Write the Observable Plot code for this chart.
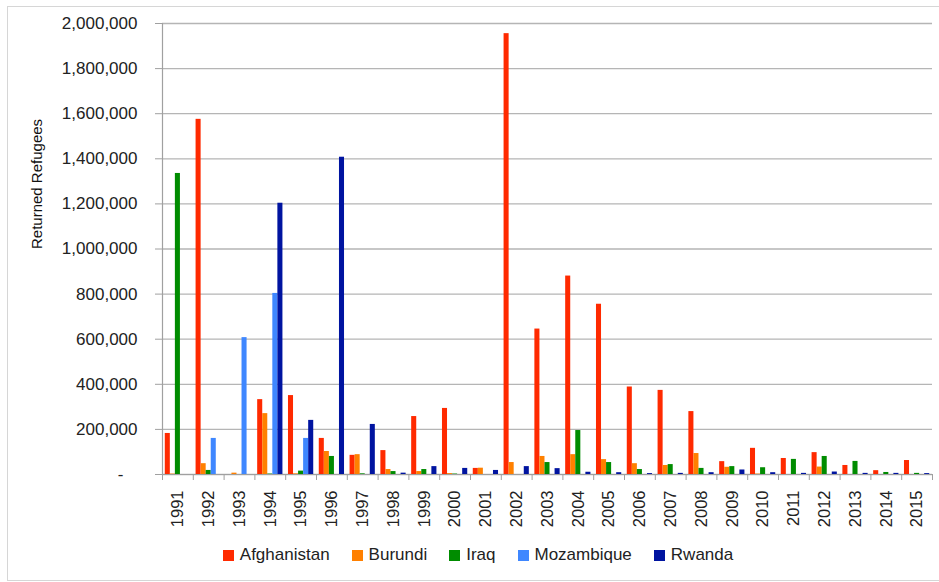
<!DOCTYPE html>
<html><head><meta charset="utf-8">
<script src="https://cdn.jsdelivr.net/npm/d3@7"></script>
<script src="https://cdn.jsdelivr.net/npm/@observablehq/plot@0.6"></script>
<style>
html,body{margin:0;padding:0;background:#fff;overflow:hidden;width:939px;height:582px;}
body{font-family:"Liberation Sans",Arial,sans-serif;color:#222;position:relative;}
#border{position:absolute;left:7px;top:6px;width:945px;height:575px;border:1px solid #d6d6d6;box-sizing:border-box;}
#chart{position:absolute;left:0;top:0;}
#legend{position:absolute;left:0;top:545px;width:939px;display:flex;justify-content:center;padding-left:17px;box-sizing:border-box;font-size:17px;}
.item{display:flex;align-items:center;margin:0 11px;}
.sw{width:11px;height:11px;margin-right:6px;}
</style></head>
<body>
<div id="border"></div>
<div id="chart"></div>
<div id="legend"></div>
<script>
const years = ["1991","1992","1993","1994","1995","1996","1997","1998","1999","2000","2001","2002","2003","2004","2005","2006","2007","2008","2009","2010","2011","2012","2013","2014","2015"];
const countries = ["Afghanistan","Burundi","Iraq","Mozambique","Rwanda"];
const colors = ["#ff2a00","#ff8000","#008c00","#3f87ff","#0014a0"];
const afghanistan = [182000,1575000,0,332000,350000,160000,85000,106000,257000,293000,27000,1955000,645000,880000,755000,388000,373000,279000,57000,116000,71000,97000,40000,17000,62000];
const burundi = [2000,48000,6000,270000,3000,102000,88000,22000,13000,4000,28000,53000,80000,88000,66000,48000,40000,93000,32000,2000,0,33000,0,0,0];
const iraq = [1335000,18000,0,2000,15000,80000,3000,13000,22000,2000,0,0,53000,195000,53000,22000,44000,27000,35000,30000,67000,80000,58000,9000,5000];
const mozambique = [0,160000,607000,803000,160000,0,0,0,0,0,0,0,0,0,0,0,0,0,0,0,0,0,0,0,0];
const rwanda = [0,0,0,1203000,240000,1407000,222000,6000,35000,27000,18000,35000,26000,10000,8000,4000,5000,8000,20000,8000,5000,11000,5000,5000,4000];
const yTicks = [0,200000,400000,600000,800000,1000000,1200000,1400000,1600000,1800000,2000000];

const series = [afghanistan, burundi, iraq, mozambique, rwanda];
const rows = [];
series.forEach((vals, i) => vals.forEach((v, j) => rows.push({country: countries[i], year: years[j], value: v})));

const W = 939, H = 540, ml = 162, mr = 7, mt = 23, mb = H - 474;
const bw = (W - ml - mr) / years.length;
const barW = 5.05, pad = (bw - 5 * barW) / 2;

const fmt = d3.format(",");
const chart = Plot.plot({
  width: W, height: H,
  marginLeft: ml, marginRight: mr, marginTop: mt, marginBottom: mb,
  style: {fontFamily: '"Liberation Sans", Arial, sans-serif', color: "#222", background: "transparent"},
  x: {domain: years, padding: 0, round: false},
  y: {domain: [0, 2000000]},
  marks: [
    Plot.gridY(yTicks, {stroke: "#b5b5b5", strokeOpacity: 1, strokeWidth: 1.3}),
    ...countries.map((c, i) => Plot.barY(rows.filter(r => r.country === c), {
      x: "year", y: "value", fill: colors[i],
      insetLeft: pad + barW * i, insetRight: bw - pad - barW * (i + 1)
    })),
    Plot.ruleY([0], {stroke: "#a0a0a0", strokeWidth: 1.2}),
    Plot.frame({anchor: "left", stroke: "#a0a0a0", strokeWidth: 1.2}),
    Plot.axisY(yTicks, {tickSize: 7, tickPadding: 18, fontSize: 17, stroke: "#a0a0a0", fill: "#222", label: null,
      tickFormat: d => d === 0 ? "-\u00a0\u00a0\u00a0" : fmt(d)}),
    Plot.axisX({text: null, tickSize: 6, dx: -bw / 2, stroke: "#a0a0a0", label: null}),
    Plot.axisX([years[years.length - 1]], {text: null, tickSize: 6, dx: bw / 2, stroke: "#a0a0a0", label: null}),
    Plot.axisX({tickSize: 0, tickPadding: 16, tickRotate: -90, fontSize: 16.5, fill: "#222", label: null}),
    Plot.text(["Returned Refugees"], {text: d => d, frameAnchor: "left", rotate: -90, dx: -125, fontSize: 15, fill: "#111"})
  ]
});
document.getElementById("chart").appendChild(chart);

const legend = document.getElementById("legend");
countries.forEach((c, i) => {
  const it = document.createElement("div");
  it.className = "item";
  const sw = document.createElement("span");
  sw.className = "sw";
  sw.style.background = colors[i];
  const t = document.createElement("span");
  t.textContent = c;
  it.appendChild(sw); it.appendChild(t);
  legend.appendChild(it);
});
</script>
</body></html>
